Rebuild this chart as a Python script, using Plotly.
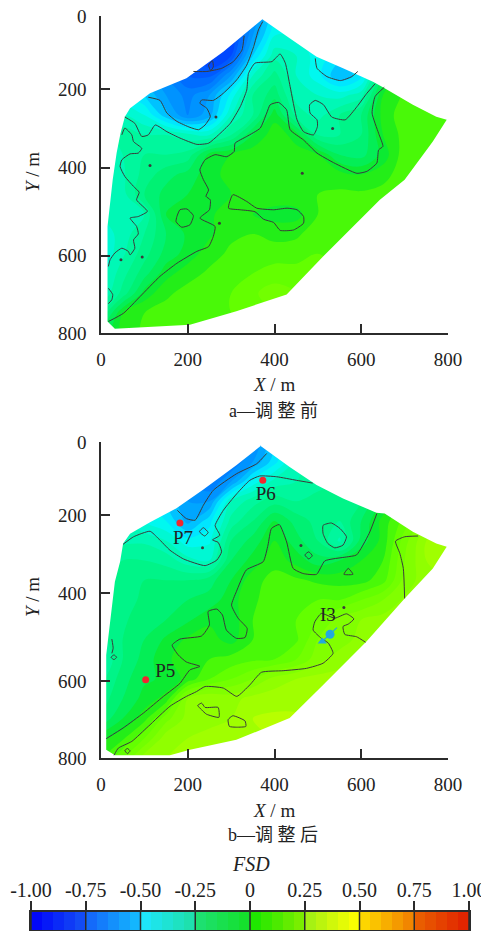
import plotly.graph_objects as go

GRID_X = [0,50,100,150,200,250,300,350,400,450,500,550,600,650,700,750,797]
GRID_Y = [7,50,100,150,200,250,300,350,400,450,500,550,600,650,700,750,800]
X_TICKS = [0,200,400,600,800]
Y_TICK_POS = [0,185,383,605,800]
Y_TICK_TEXT = ["0","200","400","600","800"]
BAR_TICKS = [-1,-.75,-.5,-.25,0,.25,.5,.75,1]
BAR_TEXT = ["-1.00","-0.75","-0.50","-0.25","0","0.25","0.50","0.75","1.00"]
BAR_LEVELS = [-.975,-.925,-.875,-.825,-.775,-.725,-.675,-.625,-.575,-.525,-.475,-.425,-.375,-.325,-.275,-.225,-.175,-.125,-.075,-.025,
              .025,.075,.125,.175,.225,.275,.325,.375,.425,.475,.525,.575,.625,.675,.725,.775,.825,.875,.925,.975]
BAR_EDGES = [-1+i*.05 for i in range(41)]

Z_A = [
[-.4,-.4,-.5,-.6,-.7,-.8,-.8,-.6,-.4,-.35,-.35,-.35,-.3,-.2,-.1,0,.1],
[-.4,-.4,-.5,-.6,-.7,-.8,-.8,-.55,-.35,-.35,-.35,-.35,-.3,-.2,-.1,0,.1],
[-.4,-.4,-.5,-.6,-.7,-.8,-.75,-.45,-.27,-.3,-.38,-.42,-.4,-.2,-.05,.05,.1],
[-.4,-.4,-.5,-.6,-.7,-.72,-.55,-.3,-.18,-.3,-.38,-.5,-.42,-.1,.05,.08,.1],
[-.4,-.4,-.45,-.55,-.62,-.55,-.38,-.2,-.12,-.27,-.3,-.32,-.27,0,.06,.08,.1],
[-.35,-.3,-.35,-.48,-.6,-.52,-.3,-.2,-.02,-.22,-.27,-.2,-.15,.02,.08,.1,.1],
[-.3,-.22,-.25,-.25,-.28,-.3,-.2,-.05,.03,-.02,-.2,-.2,-.15,0,.07,.1,.1],
[-.3,-.25,-.2,-.2,-.18,-.03,0,.03,.04,.02,0,-.1,-.12,-.03,.08,.1,.1],
[-.3,-.26,-.18,-.12,-.08,-.02,.02,.04,.05,.04,.03,.02,0,.03,.08,.1,.1],
[-.3,-.27,-.15,-.08,-.05,-.02,0,.02,.03,.04,.05,.06,.06,.07,.08,.1,.1],
[-.3,-.27,-.25,-.05,-.01,-.01,.03,0,-.02,-.02,.05,.07,.08,.08,.1,.1,.1],
[-.33,-.28,-.2,-.1,-.04,-.01,.04,.05,.03,.04,.08,.1,.1,.1,.1,.1,.1],
[-.35,-.26,-.17,-.08,-.03,.03,.06,.08,.08,.08,.1,.1,.1,.1,.1,.1,.1],
[-.32,-.22,-.12,-.02,.03,.06,.08,.1,.12,.12,.12,.1,.1,.1,.1,.1,.1],
[-.3,-.18,-.03,.04,.07,.08,.1,.14,.18,.15,.12,.1,.1,.1,.1,.1,.1],
[-.2,0,.05,.07,.08,.1,.1,.12,.14,.12,.1,.1,.1,.1,.1,.1,.1],
[-.1,.02,.06,.08,.1,.1,.1,.1,.1,.1,.1,.1,.1,.1,.1,.1,.1],
]
Z_B = [
[-.3,-.3,-.4,-.5,-.6,-.6,-.6,-.6,-.45,-.3,-.2,-.2,-.15,-.1,-.05,.05,.1],
[-.3,-.3,-.4,-.5,-.6,-.65,-.65,-.55,-.42,-.28,-.2,-.2,-.15,-.1,-.05,.05,.1],
[-.3,-.3,-.4,-.45,-.6,-.65,-.55,-.38,-.28,-.25,-.22,-.2,-.15,-.1,0,.1,.2],
[-.3,-.3,-.38,-.45,-.55,-.55,-.3,-.22,-.17,-.2,-.18,-.18,-.15,-.05,.05,.15,.25],
[-.3,-.3,-.36,-.4,-.52,-.42,-.23,-.15,-.05,-.12,-.17,-.2,-.1,.02,.12,.22,.3],
[-.25,-.26,-.26,-.3,-.38,-.36,-.15,-.08,0,-.08,-.15,-.26,-.08,.02,.18,.3,.32],
[-.22,-.2,-.2,-.22,-.28,-.3,-.1,-.03,.03,-.02,-.08,-.05,0,.05,.2,.3,.32],
[-.2,-.18,-.15,-.15,-.15,-.12,-.05,.03,.07,.06,.04,.03,.03,.08,.22,.28,.3],
[-.2,-.17,-.14,-.12,-.1,-.08,-.02,.04,.08,.1,.1,.1,.15,.2,.26,.3,.3],
[-.2,-.16,-.12,-.1,-.06,-.01,-.03,.05,.08,.1,.15,.22,.25,.27,.3,.3,.3],
[-.22,-.15,-.1,-.04,.01,.02,-.02,.05,.07,.09,.2,.22,.27,.3,.3,.3,.3],
[-.26,-.15,-.08,-.01,.03,.05,.07,.09,.1,.15,.23,.28,.3,.3,.3,.3,.3],
[-.22,-.12,-.06,-.04,.02,.1,.15,.2,.27,.3,.32,.32,.32,.32,.32,.32,.32],
[-.18,-.1,-.03,.02,.25,.3,.28,.32,.33,.33,.33,.33,.33,.33,.33,.33,.33],
[-.14,-.05,.03,.18,.27,.28,.3,.35,.36,.36,.35,.33,.33,.33,.33,.33,.33],
[-.02,.04,.15,.28,.3,.32,.33,.35,.35,.35,.33,.33,.33,.33,.33,.33,.33],
[.05,.15,.28,.3,.32,.32,.33,.33,.33,.33,.33,.33,.33,.33,.33,.33,.33],
]

EDGE_A_X = [372,435,497,558,627,650,719,773,797,765,700,643,512,428,312,205,32,15,15,27,36,45,55,67,113,197,282]
EDGE_A_Y = [8,56,103,132,166,180,224,254,262,317,413,464,607,703,745,779,789,771,531,413,346,296,254,233,195,157,90]
EDGE_B_X = [368,435,497,558,635,654,719,773,797,765,700,612,512,435,312,205,159,32,12,12,25,32,44,51,67,113,174,236,312]
EDGE_B_Y = [10,63,109,143,179,181,227,257,265,320,396,505,615,699,754,779,793,793,779,539,421,354,303,257,232,203,168,120,59]

LINES_A = [
 ([373,363,352,336,313,282,259,232,228,244,252,240,225,205,175,152,136,109],[14,35,77,124,161,195,213,212,220,233,254,275,287,281,266,245,213,205]),
 ([330,325,305,278,244,213],[50,86,115,132,140,140]),
 ([257,259,253,248,257],[113,128,138,124,113]),
 ([55,78,94,109,125,152,182,221,248,271,298,321,336,340,355,394,413,425,436,452,467,490,499,498,482,481,494,513,532,563,590,613,632],
  [255,271,304,300,275,292,308,324,321,300,271,229,187,145,119,115,96,119,178,262,292,300,279,262,245,224,213,224,255,262,229,195,171]),
 ([494,498,521,552,578,592],[107,132,153,163,153,140]),
 ([48,55,71,75,94,86,67,48,44,55,75,88,82,107,86,67,82,86,75,78,67,63,48,32,21,17],
  [300,283,300,317,334,346,348,363,380,405,430,445,464,493,506,510,531,550,565,586,603,594,586,598,615,632]),
 ([17,27,25,17],[687,703,716,726]),
 ([17,52,90,136,175,221,248,259,263,228,250,252,242,248,236,228,240,263,290,307,309,336,367,382,390,409,428,436,467,498,536,590,613,636,640,650,640,625,632,653],
  [771,750,708,657,624,594,582,556,531,510,489,464,455,439,413,388,363,350,355,342,321,304,283,245,224,218,237,287,313,346,370,397,392,371,338,329,296,245,203,180]),
 ([304,294,321,355,375,398,413,444,467,467,452,429,398,359,336,304],[451,485,489,494,513,521,541,540,523,506,489,485,489,485,468,451]),
 ([175,182,198,213,205,186,173,175],[506,489,487,504,527,533,519,506]),
]
LINES_B = [
 ([382,359,313,259,236,217,197,176],[29,55,80,122,160,198,194,173]),
 ([51,75,113,132,159,190,240,267,278,270,257,274,263,282,313,343,366,405,451,488],
  [259,240,226,244,274,296,313,299,278,254,248,236,212,173,131,97,86,88,97,104]),
 ([12,51,98,144,182,205,228,197,178,164,182,232,250,247,267,280,289,312,332,337,316,301,312,335,374,385,393,411,428,443,466,497,516,566,589,618,636],
  [751,724,686,644,611,577,568,557,539,514,499,491,463,429,423,438,476,497,495,472,446,413,379,324,303,261,219,209,253,320,333,335,301,291,286,232,181]),
 ([30,40,71,109,159,197,220,240,282,313,343,370,420,474,512,535,524,508,489,493,508,539,566,583,570,558,562,589,610],
  [793,775,758,720,669,644,632,619,623,644,615,583,579,573,560,535,509,497,476,455,434,446,435,448,461,467,487,493,507]),
 ([731,700,679,689,697,700],[238,240,251,282,320,396]),
 ([512,531,551,566,558,539,523,512,512],[211,205,219,240,261,268,257,232,211]),
 ([470,479,487,479,470],[286,278,288,296,286]),
 ([560,570,581,560],[335,320,335,335]),
 ([227,236,247,239,227],[227,217,229,238,227]),
 ([25,28,25],[499,522,535]),
 ([23,30,36,30,23],[545,539,545,551,545]),
 ([223,232,240,270,272,243,232,223],[667,661,672,672,697,689,678,667]),
 ([293,304,332,334,313,296,293],[703,693,706,720,722,720,703]),
 ([55,61,67,61,55],[781,776,782,789,781]),
]
DOTS_A_X = [265,534,464,113,273,46,95]
DOTS_A_Y = [255,284,397,377,523,615,608]
DOTS_B_X = [234,461,560]
DOTS_B_Y = [268,262,419]

WELL_P_X = [103,373,182]
WELL_P_Y = [602,97,205]
WELL_P_TEXT = ["P5","P6","P7"]
WELL_P_LABEL_X = [148,380,189]
WELL_P_LABEL_Y = [583,134,245]
WELL_I_X = [528]
WELL_I_Y = [487]
WELL_I_TAIL_X = [508,544]
WELL_I_TAIL_Y = [507,470]
WELL_I_ARROW_X = [510]
WELL_I_ARROW_Y = [505]
WELL_I_LABEL_X = [523]
WELL_I_LABEL_Y = [440]

MAP_SCALE = [[0,"#0000ff"],[.125,"#0050ff"],[.25,"#00b0ff"],[.3,"#00f8ff"],[.375,"#00f8a8"],[.45,"#00f068"],[.5,"#10e820"],
             [.55,"#5cff00"],[.625,"#88ff00"],[.675,"#a8ff00"],[.75,"#ffff00"],[.775,"#ffe000"],[.875,"#f08000"],[.9,"#e86000"],[1,"#e02000"]]
BAR_SCALE = [[0,"#0000fa"],[.12,"#1450f5"],[.13,"#1464fa"],[.25,"#14c0ff"],[.255,"#1ee6ff"],[.37,"#1ee0a8"],[.375,"#1ee078"],[.495,"#14e028"],
             [.5,"#14e600"],[.62,"#80ee00"],[.63,"#a0f014"],[.745,"#ffff00"],[.75,"#ffe000"],[.87,"#f08000"],[.875,"#ea6400"],[1,"#e01e00"]]

PAGE_INSET = 8
W, H = 489 - PAGE_INSET, 931 - PAGE_INSET
def fx(p): return (p - PAGE_INSET) / W
def fy(p): return 1 - (p - PAGE_INSET) / H
INK = "#2b2b2b"
SERIF = "'Liberation Serif','Noto Sans CJK SC',serif"
fig = go.Figure()

def panel(z, ex, ey, lines, dx, dy, xa, ya):
    fig.add_trace(go.Contour(x=GRID_X, y=GRID_Y, z=z, zmin=-1, zmax=1, colorscale=MAP_SCALE, showscale=False,
                             autocontour=False, contours=dict(start=-1, end=1, size=.05, coloring="fill", showlines=False),
                             line=dict(width=0, smoothing=1), hoverinfo="skip", xaxis=xa, yaxis=ya))
    mx = [ex[0],810,810,-10,-10,ex[0]] + [ex[0]] + ex[::-1] + [ex[0]]
    my = [-10,-10,810,810,-10,-10] + [ey[0]] + ey[::-1] + [-10]
    fig.add_trace(go.Scatter(x=mx, y=my, mode="lines", fill="toself", fillcolor="white", line=dict(width=0),
                             hoverinfo="skip", showlegend=False, xaxis=xa, yaxis=ya))
    for lx, ly in lines:
        fig.add_trace(go.Scatter(x=lx, y=ly, mode="lines", line=dict(color="#3a3a3a", width=1, shape="spline", smoothing=.5),
                                 hoverinfo="skip", showlegend=False, xaxis=xa, yaxis=ya))
    fig.add_trace(go.Scatter(x=dx, y=dy, mode="markers", marker=dict(color="#3a3a3a", size=3), hoverinfo="skip",
                             showlegend=False, xaxis=xa, yaxis=ya))

panel(Z_A, EDGE_A_X, EDGE_A_Y, LINES_A, DOTS_A_X, DOTS_A_Y, "x", "y")
panel(Z_B, EDGE_B_X, EDGE_B_Y, LINES_B, DOTS_B_X, DOTS_B_Y, "x2", "y2")

fig.add_trace(go.Scatter(x=WELL_I_TAIL_X, y=WELL_I_TAIL_Y, mode="lines", line=dict(color="#22a8e0", width=1.2),
                         showlegend=False, hoverinfo="skip", xaxis="x2", yaxis="y2"))
fig.add_trace(go.Scatter(x=WELL_I_ARROW_X, y=WELL_I_ARROW_Y, mode="markers",
                         marker=dict(color="#22a8e0", size=8, symbol="triangle-up"),
                         showlegend=False, hoverinfo="skip", xaxis="x2", yaxis="y2"))
fig.add_trace(go.Scatter(x=WELL_I_X, y=WELL_I_Y, mode="markers", marker=dict(color="#22a8e0", size=9),
                         showlegend=False, hoverinfo="skip", xaxis="x2", yaxis="y2"))
fig.add_trace(go.Scatter(x=WELL_P_X, y=WELL_P_Y, mode="markers", marker=dict(color="#f02830", size=7),
                         showlegend=False, hoverinfo="skip", xaxis="x2", yaxis="y2"))
fig.add_trace(go.Scatter(x=WELL_P_LABEL_X + WELL_I_LABEL_X, y=WELL_P_LABEL_Y + WELL_I_LABEL_Y, mode="text",
                         text=WELL_P_TEXT + ["I3"], textposition="middle center", textfont=dict(family=SERIF, size=19, color="#222"),
                         showlegend=False, hoverinfo="skip", xaxis="x2", yaxis="y2"))

fig.add_trace(go.Heatmap(x=BAR_EDGES, y=[0,1], z=[BAR_LEVELS], zmin=-1, zmax=1, colorscale=BAR_SCALE, showscale=False,
                         hoverinfo="skip", xaxis="x3", yaxis="y3"))

axis_font = dict(family=SERIF, size=19, color="#222")
def xax(dom, anchor):
    return dict(domain=dom, anchor=anchor, range=[0,800], tickmode="array", tickvals=X_TICKS, ticktext=[str(v) for v in X_TICKS],
                ticks="inside", ticklen=9, tickwidth=1.5, tickcolor=INK, showline=True, linecolor=INK, linewidth=1.5,
                showgrid=False, zeroline=False, tickfont=axis_font, ticklabelstandoff=8, ticklabeloverflow="allow")
def yax(dom, anchor):
    return dict(domain=dom, anchor=anchor, range=[800,0], tickmode="array", tickvals=Y_TICK_POS, ticktext=Y_TICK_TEXT,
                ticks="inside", ticklen=9, tickwidth=1.5, tickcolor=INK, showline=True, linecolor=INK, linewidth=1.5,
                showgrid=False, zeroline=False, tickfont=axis_font, ticklabelstandoff=9, ticklabeloverflow="allow")

xd = [fx(101), fx(448)]
fig.update_layout(
    width=W, height=H, autosize=False, margin=dict(l=0,r=0,t=0,b=0,autoexpand=False), paper_bgcolor="white", plot_bgcolor="white",
    showlegend=False, font=dict(family=SERIF, color="#222"),
    xaxis=xax(xd,"y"), yaxis=yax([fy(333),fy(16)],"x"),
    xaxis2=xax(xd,"y2"), yaxis2=yax([fy(758),fy(442)],"x2"),
    xaxis3=dict(domain=[fx(31),fx(469)], anchor="y3", side="top", range=[-1,1], tickmode="array", tickvals=BAR_TICKS, ticktext=BAR_TEXT,
                ticks="outside", ticklen=9, tickwidth=1.5, tickcolor=INK, showline=True, mirror=True, linecolor=INK, linewidth=1.5,
                showgrid=False, zeroline=False, tickfont=dict(family=SERIF, size=20, color="#222"), ticklabelstandoff=-4, ticklabeloverflow="allow"),
    yaxis3=dict(domain=[fy(930),fy(912)], anchor="x3", range=[0,1], showticklabels=False, ticks="", showline=True, mirror=True,
                linecolor=INK, linewidth=1.5, showgrid=False, zeroline=False),
    shapes=[dict(type="line", xref="x3", yref="y3", x0=v, x1=v, y0=0, y1=1, line=dict(color=INK, width=1.5), layer="above") for v in BAR_TICKS],
)
def note(text, px, py, size=19, angle=0):
    fig.add_annotation(text=text, xref="paper", yref="paper", x=fx(px), y=fy(py), showarrow=False, textangle=angle,
                       font=dict(family=SERIF, size=size, color="#222"), xanchor="center", yanchor="middle")
note("<i>X</i> / m", 274, 384)
note("<i>Y</i> / m", 32, 172, angle=-90)
note("a—调 整 前", 273, 411, size=18)
note("<i>X</i> / m", 274, 810)
note("<i>Y</i> / m", 32, 597, angle=-90)
note("b—调 整 后", 273, 835, size=18)
note("<i>FSD</i>", 251, 864, size=20)
fig.write_html("out.html")
